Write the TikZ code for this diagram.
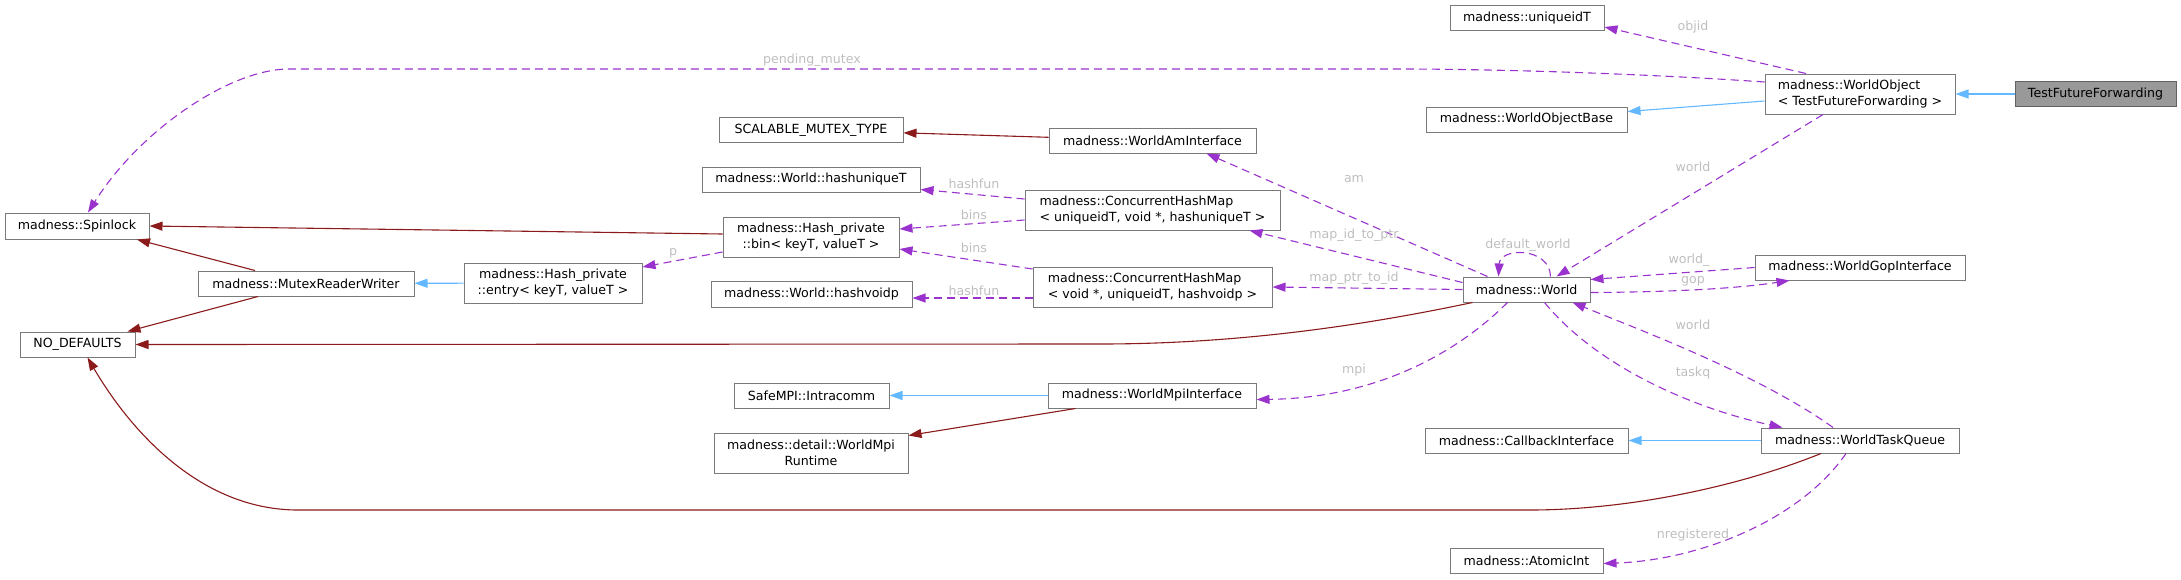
\documentclass[tikz,border=0pt]{standalone}
\usepackage{fontspec}
\setmainfont{DejaVu Sans}
\usepackage{xcolor}
\usepackage{tikz}
\usetikzlibrary{arrows.meta, positioning, calc}
\definecolor{usecol}{HTML}{9A32CD}
\definecolor{owncol}{HTML}{8B1A1A}
\definecolor{inhcol}{HTML}{63B8FF}
\definecolor{boxline}{HTML}{7A7A7A}
\definecolor{boxfill}{HTML}{999999}
\definecolor{lblcol}{HTML}{BEBEBE}

\begin{document}
\begin{tikzpicture}[
  x=1pt, y=-1pt,
  box/.style={rectangle, draw=boxline, line width=1pt, fill=white, inner sep=0pt,
              minimum height=25pt, font=\fontsize{12.6}{15.5}\selectfont, align=center},
  tbox/.style={box, minimum height=40pt, align=left},
  lbl/.style={inner sep=0pt, font=\fontsize{12.6}{15.5}\selectfont, text=lblcol},
  inh/.style={-{Triangle[length=13pt, width=9pt]}, line width=1.1pt, inhcol},
  own/.style={-{Triangle[length=13pt, width=9pt]}, line width=1.1pt, owncol},
  use/.style={-{Triangle[length=13pt, width=9pt]}, line width=1.1pt, usecol,
              dash pattern=on 8pt off 5pt}
]
  \useasboundingbox (0,0) rectangle (2181,579);

  % Right column: the class and its bases
  \node[box, fill=boxfill, draw=boxline!80!black, minimum width=161pt] (tff) at (2095.5,94) {TestFutureForwarding};
  \node[tbox, minimum width=190pt] (wobj) at (1860,94) {madness::WorldObject\\< TestFutureForwarding >};
  \node[box, minimum width=210pt] (wgop) at (1860,267.5) {madness::WorldGopInterface};
  \node[box, minimum width=198pt] (wtq) at (1860,440.5) {madness::WorldTaskQueue};

  % World column
  \node[box, minimum width=154pt] (uid) at (1527,18) {madness::uniqueidT};
  \node[box, minimum width=201pt] (wob) at (1526.5,119.5) {madness::WorldObjectBase};
  \node[box, minimum width=127pt] (world) at (1526.5,289.5) {madness::World};
  \node[box, minimum width=203pt] (cbi) at (1526.5,440.5) {madness::CallbackInterface};
  \node[box, minimum width=153pt] (aint) at (1526.5,560.5) {madness::AtomicInt};

  % Interfaces and maps
  \node[box, minimum width=207pt] (wam) at (1152.5,140.5) {madness::WorldAmInterface};
  \node[tbox, minimum width=255pt] (chm1) at (1152.5,210) {madness::ConcurrentHashMap\\< uniqueidT, void *, hashuniqueT >};
  \node[tbox, minimum width=239pt] (chm2) at (1152.5,287) {madness::ConcurrentHashMap\\< void *, uniqueidT, hashvoidp >};
  \node[box, minimum width=208pt] (wmpi) at (1152,395.5) {madness::WorldMpiInterface};

  % Helpers
  \node[box, minimum width=184pt] (smtx) at (811,130) {SCALABLE\_MUTEX\_TYPE};
  \node[box, minimum width=218pt] (hunq) at (811,179.5) {madness::World::hashuniqueT};
  \node[box, minimum width=176pt, minimum height=40pt] (hbin) at (811,237) {madness::Hash\_private\\::bin< keyT, valueT >};
  \node[box, minimum width=201pt, minimum height=26pt] (hvp) at (811.5,294) {madness::World::hashvoidp};
  \node[box, minimum width=155pt] (intra) at (811.5,395.5) {SafeMPI::Intracomm};
  \node[box, minimum width=194pt, minimum height=40pt] (mpirt) at (811,453) {madness::detail::WorldMpi\\Runtime};

  % Left side
  \node[box, minimum width=178pt, minimum height=40pt] (hent) at (553,283) {madness::Hash\_private\\::entry< keyT, valueT >};
  \node[box, minimum width=216pt] (mrw) at (306,283.5) {madness::MutexReaderWriter};
  \node[box, minimum width=144pt, minimum height=26pt] (spin) at (77,226) {madness::Spinlock};
  \node[box, minimum width=115pt] (nodef) at (77.5,344.5) {NO\_DEFAULTS};

  % Inheritance
  \draw[inh] (tff) -- (wobj);
  \draw[inh] ($(wobj.west)+(0,7)$) -- ($(wob.east)+(0,-8)$);
  \draw[inh] (hent) -- (mrw);
  \draw[inh] (wmpi) -- (intra);
  \draw[inh] (wtq) -- (cbi);

  % Owned members
  \draw[own] (wam) -- (smtx);
  \draw[own] ($(hbin.west)+(0,-3)$) -- (spin.east);
  \draw[own] ($(mrw.north)+(-51,0)$) -- ($(spin.south)+(60,0)$);
  \draw[own] ($(mrw.south)+(-48,0)$) -- ($(nodef.north)+(50,0)$);
  \draw[own] ($(world.south west)+(10,0)$) .. controls (1380,322) and (1250,344) .. (1100,344) -- (nodef.east);
  \draw[own] ($(wtq.south)+(-39,0)$) .. controls (1730,490) and (1620,510) .. (1530,510) -- (298,510)
    .. controls (200,510) and (130,430) .. ($(nodef.south)+(10,0)$);
  \draw[own] ($(wmpi.south west)+(28,0)$) -- ($(mpirt.north east)+(0,3)$);

  % Used members
  \draw[use] ($(wobj.north)+(-54,0)$) -- ($(uid.east)+(0,9)$);
  \draw[use] ($(wobj.west)+(0,-12)$) .. controls (1650,74) and (1500,69) .. (1400,69) -- (289,69)
    .. controls (230,69) and (140,130) .. ($(spin.north)+(11,0)$);
  \draw[use] ($(wobj.south)+(-37,0)$) -- ($(world.north)+(30,0)$);
  \draw[use] ($(world.north)+(24,0)$) .. controls (1550,247) and (1500,247) .. ($(world.north)+(-28,0)$);
  \draw[use] (wgop.west) -- ($(world.east)+(0,-10)$);
  \draw[use] ($(world.east)+(0,3)$) .. controls (1680,292) and (1740,288) .. ($(wgop.south west)+(35,0)$);
  \draw[use] ($(world.north west)+(25,0)$) -- ($(wam.south)+(54,0)$);
  \draw[use] ($(world.west)+(0,-7)$) -- ($(chm1.south)+(97,0)$);
  \draw[use] (world.west) -- (chm2.east);
  \draw[use] ($(world.south)+(-19,0)$) .. controls (1460,350) and (1380,398) .. ($(wmpi.east)+(0,4)$);
  \draw[use] ($(world.south)+(18,0)$) .. controls (1600,370) and (1700,410) .. ($(wtq.north west)+(22,0)$);
  \draw[use] ($(wtq.north)+(-27,0)$) .. controls (1760,375) and (1640,330) .. ($(world.south east)+(-18,0)$);
  \draw[use] ($(wtq.south)+(-14,0)$) .. controls (1800,520) and (1700,560) .. ($(aint.east)+(0,3)$);
  \draw[use] ($(chm1.west)+(0,-11)$) -- ($(hunq.east)+(0,10)$);
  \draw[use] ($(chm1.west)+(0,10)$) -- ($(hbin.east)+(0,-8)$);
  \draw[use] ($(chm2.west)+(0,-18)$) -- ($(hbin.east)+(0,12)$);
  \draw[use] ($(chm2.west)+(0,11)$) -- ($(hvp.east)+(0,4)$);
  \draw[use] ($(hbin.west)+(0,15)$) -- ($(hent.east)+(0,-16)$);

  % Member names
  \node[lbl] (l-pm) at (812,60) {pending\_mutex};
  \node[lbl] (l-objid) at (1693,27) {objid};
  \node[lbl] (l-world1) at (1693,167) {world};
  \node[lbl] (l-dw) at (1528,245) {default\_world};
  \node[lbl] (l-world2) at (1689,260) {world\_};
  \node[lbl] (l-gop) at (1693,281) {gop};
  \node[lbl] (l-am) at (1354,179) {am};
  \node[lbl] (l-idptr) at (1354,235) {map\_id\_to\_ptr};
  \node[lbl] (l-ptrid) at (1354,278) {map\_ptr\_to\_id};
  \node[lbl] (l-mpi) at (1354,370) {mpi};
  \node[lbl] (l-world3) at (1693,325) {world};
  \node[lbl] (l-taskq) at (1693,373) {taskq};
  \node[lbl] (l-nreg) at (1693,535) {nregistered};
  \node[lbl] (l-hf1) at (974,184) {hashfun};
  \node[lbl] (l-bins1) at (974,215) {bins};
  \node[lbl] (l-bins2) at (974,248) {bins};
  \node[lbl] (l-hf2) at (974,291) {hashfun};
  \node[lbl] (l-p) at (673,253) {p};
\end{tikzpicture}
\end{document}
